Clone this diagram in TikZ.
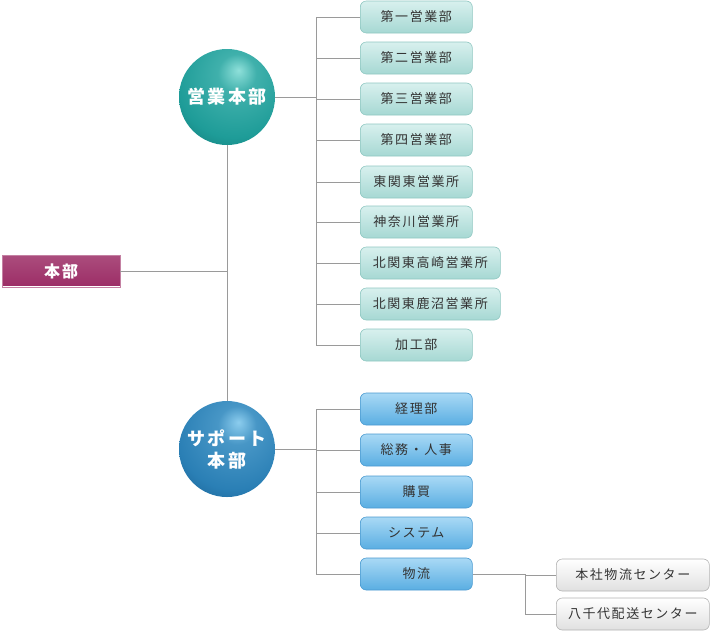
\documentclass[tikz,border=0pt]{standalone}
\usepackage{fontspec}
\setmainfont{Noto Sans CJK JP}
\newfontfamily\jp[LetterSpace=12]{Noto Sans CJK JP}
\usepackage{xcolor}
\usetikzlibrary{positioning, calc}

\definecolor{lineg}{HTML}{9A9A9A}
\definecolor{honbuc}{HTML}{9C2D66}
\definecolor{teall}{HTML}{8FE0DA}
\definecolor{tealm}{HTML}{1E9C98}
\definecolor{teald}{HTML}{0A5C5C}
\definecolor{bluel}{HTML}{8CCDEE}
\definecolor{bluem}{HTML}{2A7FB5}
\definecolor{blued}{HTML}{0B4675}
\definecolor{tboxt}{HTML}{D8F0EE}
\definecolor{tboxb}{HTML}{A6D8D3}
\definecolor{tboxd}{HTML}{8FC7C1}
\definecolor{bboxt}{HTML}{A9D9F5}
\definecolor{bboxb}{HTML}{5AAEE2}
\definecolor{bboxd}{HTML}{4A9AD0}

\pgfdeclareradialshading{tealsh}{\pgfpoint{6bp}{14bp}}{color(0bp)=(teall); color(10bp)=(tealm!70!teall); color(30bp)=(tealm); color(52bp)=(teald); color(60bp)=(teald!80!black); color(80bp)=(teald!80!black)}
\pgfdeclareradialshading{bluesh}{\pgfpoint{6bp}{14bp}}{color(0bp)=(bluel); color(10bp)=(bluem!70!bluel); color(30bp)=(bluem); color(52bp)=(blued); color(60bp)=(blued!80!black); color(80bp)=(blued!80!black)}

\begin{document}
\begin{tikzpicture}[
          x=1pt, y=-1pt,
          font=\jp\fontsize{13}{15}\selectfont,
          ball/.style={circle, minimum size=96pt, inner sep=0pt, align=center, text=white,
                       font=\jp\bfseries\fontsize{18}{22}\selectfont},
          box/.style={draw, rounded corners=6pt, minimum width=112pt, minimum height=32pt,
                      anchor=west, align=center, line width=0.6pt},
          tbox/.style={box, draw=tboxd, top color=tboxt, bottom color=tboxb, text=black!80},
          bbox/.style={box, draw=bboxd, top color=bboxt, bottom color=bboxb, text=black!80},
          gbox/.style={box, draw=black!30, top color=white, bottom color=black!12, text=black!80, minimum width=153pt},
          wide/.style={minimum width=140pt},
          line/.style={draw=lineg, line width=1pt}
        ]
          \useasboundingbox (0,0) rectangle (711,633);

          % head office
          \node[draw=white, top color=honbuc!85!white, bottom color=honbuc, minimum width=118pt, minimum height=32pt, anchor=west,
                text=white, font=\jp\bfseries\fontsize{16}{18}\selectfont, double=honbuc!60, double distance=0.6pt] (honbu) at (2,271) {本部};

          % main divisions
          \node[ball, shading=tealsh] (eigyo) at (227,97) {営業本部};
          \node[ball, shading=bluesh] (support) at (227,449) {サポート\\本部};

          % sales
          \node[tbox] (s1) at (360,17) {第一営業部};
          \node[tbox] (s2) at (360,58) {第二営業部};
          \node[tbox] (s3) at (360,99) {第三営業部};
          \node[tbox] (s4) at (360,140) {第四営業部};
          \node[tbox] (s5) at (360,182) {東関東営業所};
          \node[tbox] (s6) at (360,222) {神奈川営業所};
          \node[tbox, wide] (s7) at (360,263) {北関東高崎営業所};
          \node[tbox, wide] (s8) at (360,304) {北関東鹿沼営業所};
          \node[tbox] (s9) at (360,345) {加工部};

          % support
          \node[bbox] (p1) at (360,409) {経理部};
          \node[bbox] (p2) at (360,450) {総務・人事};
          \node[bbox] (p3) at (360,492) {購買};
          \node[bbox] (p4) at (360,533) {システム};
          \node[bbox] (p5) at (360,574) {物流};

          % logistics
          \node[gbox] (l1) at (556,575) {本社物流センター};
          \node[gbox] (l2) at (556,614) {八千代配送センター};

          % connectors
          \coordinate (tr1) at ([xshift=-44pt]s1.west);
          \coordinate (tr2) at ([xshift=-44pt]p1.west);
          \coordinate (tr3) at ([xshift=-31pt]l1.west);
          \draw[line] (eigyo) -- (support);
          \draw[line] (honbu.east) -- (honbu.east -| eigyo.south);
          \draw[line] (eigyo.east) -- (eigyo.east -| tr1);
          \draw[line] (s1.west) -- (tr1) |- (s9.west);
          \foreach \i in {2,...,8} \draw[line] (s\i.west) -- (s\i.west -| tr1);
          \draw[line] (support.east) -- (support.east -| tr2);
          \draw[line] (p1.west) -- (tr2) |- (p5.west);
          \foreach \i in {2,3,4} \draw[line] (p\i.west) -- (p\i.west -| tr2);
          \draw[line] (p5.east) -- (tr3 |- p5.east) |- (l2.west);
          \draw[line] (tr3 |- l1.west) -- (l1.west);
        \end{tikzpicture}
\end{document}
